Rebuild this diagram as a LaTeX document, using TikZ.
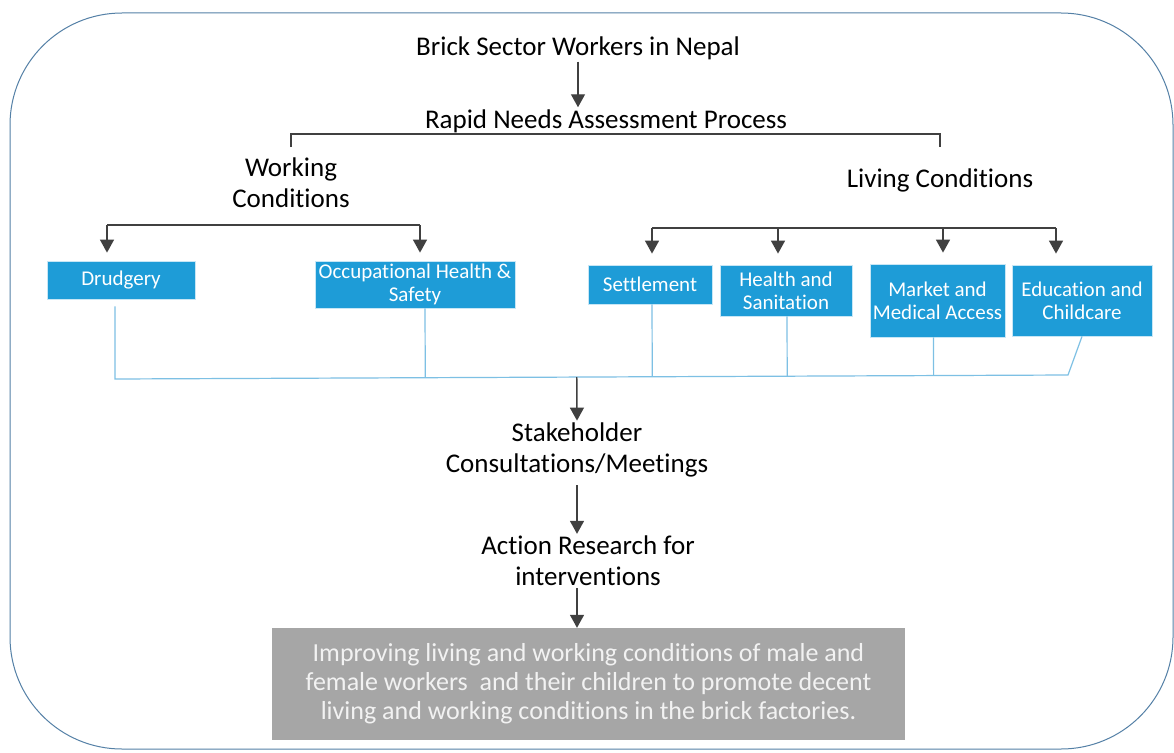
\documentclass[tikz,border=0pt]{standalone}
\usepackage{fontspec}
\setmainfont{Carlito}[Ligatures=CommonOff]
\usepackage{xcolor}
\usepackage{tikz}
\usetikzlibrary{positioning, arrows.meta, calc}

\definecolor{boxblue}{RGB}{30,156,215}
\definecolor{busblue}{RGB}{125,192,228}
\definecolor{framec}{RGB}{84,128,166}
\definecolor{arrgray}{RGB}{64,64,64}
\definecolor{goalgray}{RGB}{166,166,166}

\begin{document}
\begin{tikzpicture}[x=1pt, y=-1pt,
  big/.style={font=\fontsize{27}{31}\selectfont, align=center, inner sep=2pt},
  bluebox/.style={fill=boxblue, draw=white!75!boxblue, line width=0.8pt, text=white,
    font=\fontsize{21}{23}\selectfont, align=center, inner sep=0pt},
  goalbox/.style={fill=goalgray, text=white!95!black, font=\fontsize{26}{29}\selectfont,
    align=center, inner sep=0pt},
  arr/.style={draw=arrgray, line width=1.4pt, -{Triangle[width=14pt,length=13pt]}},
  tree/.style={draw=arrgray, line width=1.4pt},
  bus/.style={draw=busblue, line width=1.2pt}]
\useasboundingbox (0,0) rectangle (1174,752);
\fill[white] (0,0) rectangle (1174,752);
\draw[framec, line width=1pt, rounded corners=112pt] (10,13) rectangle (1173,749);

\node[big] (top) at (578,48) {Brick Sector Workers in Nepal};
\node[big] (rnap) at (606,121) {Rapid Needs Assessment Process};
\node[big] (work) at (291,183) {Working\\Conditions};
\node[big] (live) at (940,180) {Living Conditions};

\node[bluebox, minimum width=148pt, minimum height=38pt] (drud) at (121,280) {Drudgery};
\node[bluebox, minimum width=200pt, minimum height=47pt] (ohs) at (415,284.5) {Occupational Health \&\\Safety};
\node[bluebox, minimum width=124pt, minimum height=39pt] (sett) at (650,284.5) {Settlement};
\node[bluebox, minimum width=132pt, minimum height=51pt] (hsan) at (786,290.5) {Health and\\Sanitation};
\node[bluebox, minimum width=135pt, minimum height=73pt] (mma) at (937.5,300.5) {Market and\\Medical Access};
\node[bluebox, minimum width=140pt, minimum height=71pt] (educ) at (1082,300.5) {Education and\\Childcare};

\node[big] (stake) at (577,450) {Stakeholder\\Consultations/Meetings};
\node[big] (action) at (588,561) {Action Research for\\interventions};
\node[goalbox, minimum width=633pt, minimum height=112pt] (goal) at (588.5,684)
  {Improving living and working conditions of male and\\
   female workers\ \ and their children to promote decent\\
   living and working conditions in the brick factories.};

\coordinate (lvl1) at (0,134);
\coordinate (lvl2) at (0,147);
\coordinate (aw1) at (107,225);
\coordinate (aw2) at (420,225);
\coordinate (al1) at (652,228);
\coordinate (al2) at (778,228);
\coordinate (al3) at (943,228);
\coordinate (al4) at (1056,228);
\coordinate (busL) at (115,379);
\coordinate (busR) at (1068,375);

\draw[arr] (top.south) -- (top.south |- rnap.north);
\draw[tree] (work.north |- lvl2) -- (work.north |- lvl1) -- (live.north |- lvl1) -- (live.north |- lvl2);

\draw[tree] (aw1) -- (aw2);
\draw[arr, shorten >=8pt] (aw1) -- (aw1 |- drud.north);
\draw[arr, shorten >=8pt] (aw2) -- (aw2 |- ohs.north);

\draw[tree] (al1) -- (al4);
\foreach \a/\b in {al1/sett, al2/hsan, al3/mma, al4/educ}
  \draw[arr, shorten >=11pt] (\a) -- (\a |- \b.north);

\draw[bus, shorten <=7pt] (busL |- drud.south) -- (busL) -- (busR) -- (educ.south);
\foreach \b/\dx in {ohs/10, sett/2, hsan/1, mma/-4}
  \draw[bus] ([xshift=\dx pt]\b.south) coordinate (t) -- ($(busL)!(t)!(busR)$);

\draw[arr] ($(busL)!(stake.north)!(busR)$) -- (stake.north);
\draw[arr, shorten <=6pt] (stake.south) -- (stake.south |- action.north);
\draw[arr] (action.south -| stake.south) -- (stake.south |- goal.north);
\end{tikzpicture}
\end{document}
